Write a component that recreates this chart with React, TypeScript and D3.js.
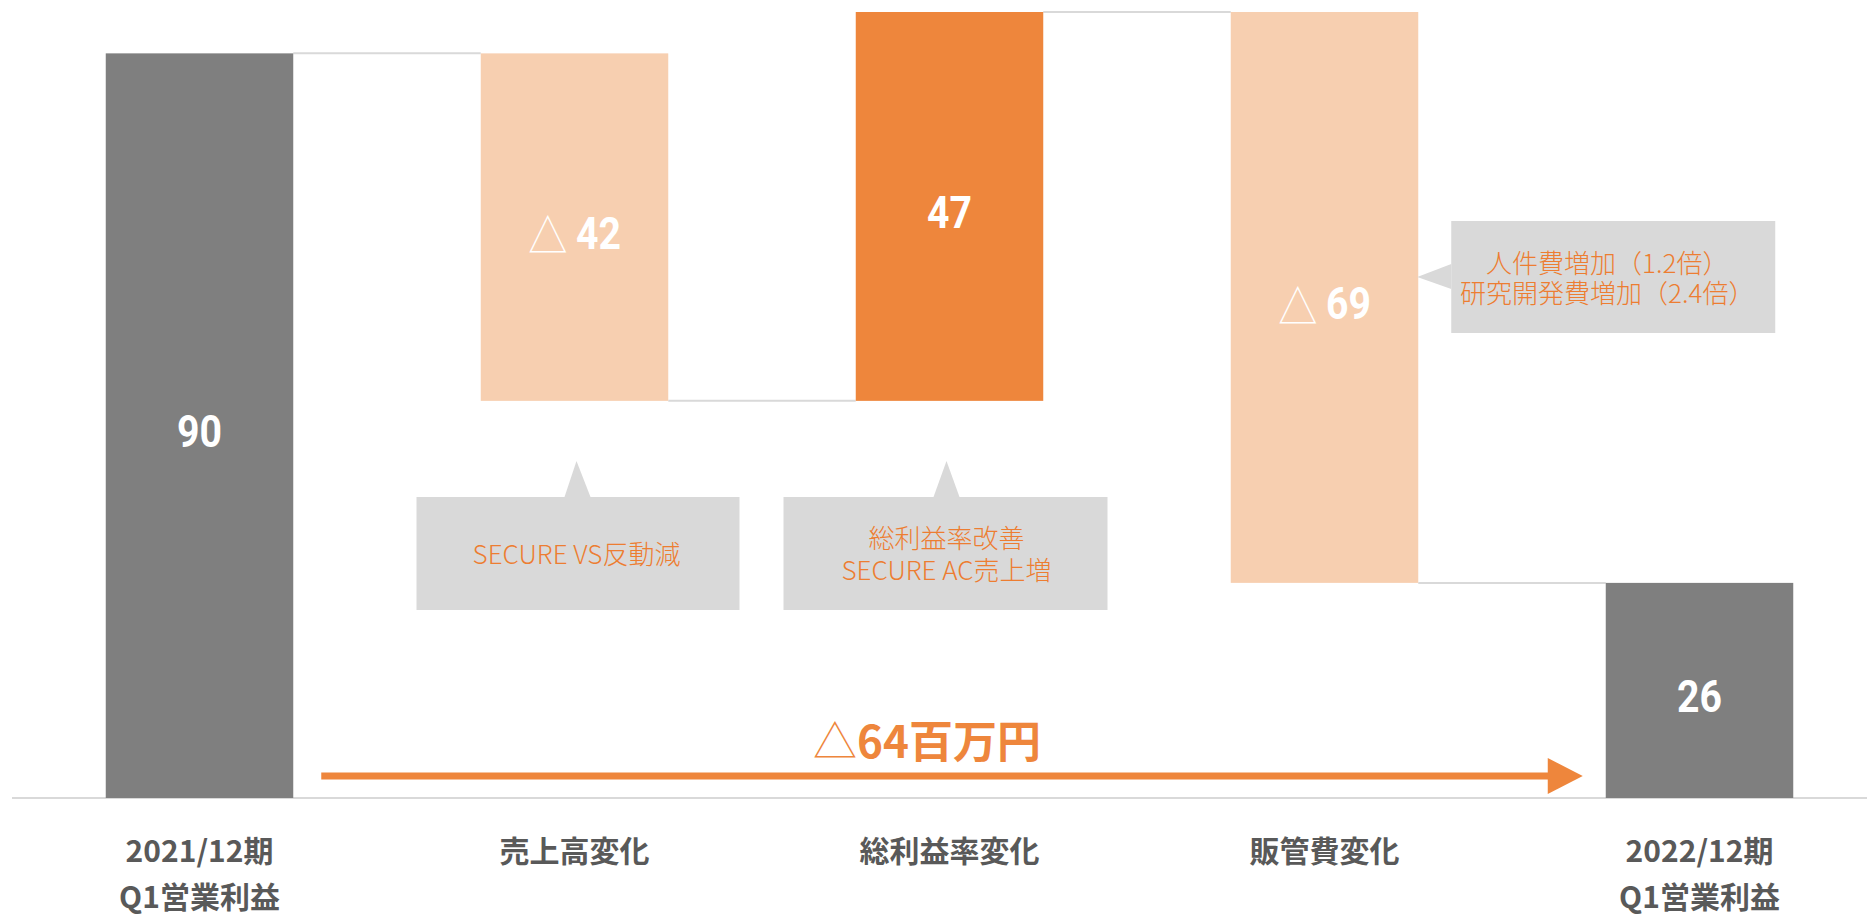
import React from "react";
import * as d3 from "d3";

const categories = ["2021/12期\nQ1営業利益", "売上高変化", "総利益率変化", "販管費変化", "2022/12期\nQ1営業利益"];
const values = [90, -42, 47, -69, 26];
const kinds = ["total", "delta", "delta", "delta", "total"];
const valueLabels = ["90", "42", "47", "69", "26"];
const negativeMarks = [false, true, false, true, false];

const callout1 = ["SECURE VS反動減"];
const callout2 = ["総利益率改善", "SECURE AC売上増"];
const callout3 = ["人件費増加（1.2倍）", "研究開発費増加（2.4倍）"];
const totalChangeLabel = "64百万円";

const W = 1867;
const H = 917;

const COLORS = {
  total: "#7f7f7f",
  neg: "#f7cfb0",
  pos: "#ee863c",
  connector: "#d9d9d9",
  calloutBg: "#d9d9d9",
  calloutText: "#ed7d31",
  catText: "#595959",
  arrow: "#ee863c",
};

const CJK = "'Noto Sans CJK JP', 'Noto Sans', sans-serif";
const NUM = "Roboto, 'Noto Sans', sans-serif";

export default function App() {
  const x = d3.scaleBand<string>().domain(categories).range([12, 1887]).paddingInner(0.5).paddingOuter(0.25);
  const y = d3.scaleLinear().domain([0, 95]).range([798, 12]);
  const bw = x.bandwidth();

  let running = 0;
  const bars = categories.map((c, i) => {
    let start: number, end: number;
    if (kinds[i] === "total") {
      start = 0;
      end = values[i];
      running = values[i];
    } else {
      start = running;
      end = running + values[i];
      running = end;
    }
    const fill = kinds[i] === "total" ? COLORS.total : values[i] < 0 ? COLORS.neg : COLORS.pos;
    return { c, i, start, end, fill, level: kinds[i] === "total" ? values[i] : end };
  });

  const y0 = y(0);
  const xAt = (i: number) => x(categories[i]) as number;

  const c1x = xAt(1) + bw / 2;
  const c2x = xAt(2) + bw / 2;
  const boxTop = y(0) - 301;
  const boxH = 113;
  const boxW = 323;
  const tipY = boxTop - 36;

  const c3Left = xAt(3) + bw + 33;
  const c3Top = 221;
  const c3W = 324;
  const c3H = 112;
  const c3TipY = c3Top + 56;

  const arrowY = y0 - 22;
  const arrowX0 = xAt(0) + bw + 28;
  const arrowX1 = xAt(4) - 23;

  return (
    <svg width={W} height={H} style={{ position: "absolute", left: 0, top: 0, background: "#fff" }}>
      <line x1={12} x2={W} y1={y0} y2={y0} stroke={COLORS.connector} strokeWidth={2} />

      {bars.slice(0, -1).map((b, i) => (
        <line
          key={"con" + i}
          x1={xAt(i) + bw}
          x2={xAt(i + 1)}
          y1={y(b.level)}
          y2={y(b.level)}
          stroke={COLORS.connector}
          strokeWidth={2}
        />
      ))}

      {bars.map((b) => (
        <rect
          key={"bar" + b.i}
          x={xAt(b.i)}
          width={bw}
          y={y(Math.max(b.start, b.end))}
          height={Math.abs(y(b.start) - y(b.end))}
          fill={b.fill}
        />
      ))}

      {bars.map((b) => {
        const cx = xAt(b.i) + bw / 2;
        const cy = (y(b.start) + y(b.end)) / 2 + 6;
        return (
          <g key={"lbl" + b.i} transform={`translate(${cx},${cy}) scale(0.87,1)`}>
            <text
              textAnchor="middle"
              dominantBaseline="central"
              fill="#fff"
              fontFamily={NUM}
              fontWeight={700}
              fontSize={45}
            >
              {negativeMarks[b.i] ? (
                <tspan fontFamily={CJK} fontWeight={300}>
                  {"△ "}
                </tspan>
              ) : null}
              {valueLabels[b.i]}
            </text>
          </g>
        );
      })}

      <g>
        <rect x={c1x - 158} y={boxTop} width={boxW} height={boxH} fill={COLORS.calloutBg} />
        <polygon points={`${c1x - 10},${boxTop} ${c1x + 2},${tipY} ${c1x + 16},${boxTop}`} fill={COLORS.calloutBg} />
        {callout1.map((t, k) => (
          <text
            key={k}
            x={c1x + 2}
            y={boxTop + 55}
            textAnchor="middle"
            dominantBaseline="central"
            fill={COLORS.calloutText}
            fontFamily={CJK}
            fontSize={26}
            fontWeight={300}
          >
            {t}
          </text>
        ))}
      </g>

      <g>
        <rect x={c2x - 166} y={boxTop} width={boxW + 1} height={boxH} fill={COLORS.calloutBg} />
        <polygon points={`${c2x - 16},${boxTop} ${c2x - 3},${tipY} ${c2x + 10},${boxTop}`} fill={COLORS.calloutBg} />
        {callout2.map((t, k) => (
          <text
            key={k}
            x={c2x - 3}
            y={boxTop + 39 + k * 32}
            textAnchor="middle"
            dominantBaseline="central"
            fill={COLORS.calloutText}
            fontFamily={CJK}
            fontSize={26}
            fontWeight={300}
          >
            {t}
          </text>
        ))}
      </g>

      <g>
        <rect x={c3Left} y={c3Top} width={c3W} height={c3H} fill={COLORS.calloutBg} />
        <polygon
          points={`${c3Left},${c3TipY - 13} ${xAt(3) + bw - 1},${c3TipY} ${c3Left},${c3TipY + 12}`}
          fill={COLORS.calloutBg}
        />
        {callout3.map((t, k) => (
          <text
            key={k}
            x={c3Left + c3W / 2 - 6}
            y={c3Top + 40 + k * 30}
            textAnchor="middle"
            dominantBaseline="central"
            fill={COLORS.calloutText}
            fontFamily={CJK}
            fontSize={26}
            fontWeight={300}
          >
            {t}
          </text>
        ))}
      </g>

      <line x1={arrowX0} x2={arrowX1 - 30} y1={arrowY} y2={arrowY} stroke={COLORS.arrow} strokeWidth={7} />
      <polygon
        points={`${arrowX1 - 35},${arrowY - 18} ${arrowX1},${arrowY} ${arrowX1 - 35},${arrowY + 18}`}
        fill={COLORS.arrow}
      />
      <text x={927} y={758} textAnchor="middle" fill={COLORS.arrow} fontFamily={CJK} fontSize={44} fontWeight={700}>
        <tspan fontWeight={300}>△</tspan>
        {totalChangeLabel}
      </text>

      {categories.map((c, i) =>
        c.split("\n").map((line, k) => (
          <text
            key={c + k}
            x={xAt(i) + bw / 2}
            y={849 + k * 46}
            textAnchor="middle"
            dominantBaseline="central"
            fill={COLORS.catText}
            fontFamily={CJK}
            fontSize={30}
            fontWeight={700}
          >
            {line}
          </text>
        ))
      )}
    </svg>
  );
}
